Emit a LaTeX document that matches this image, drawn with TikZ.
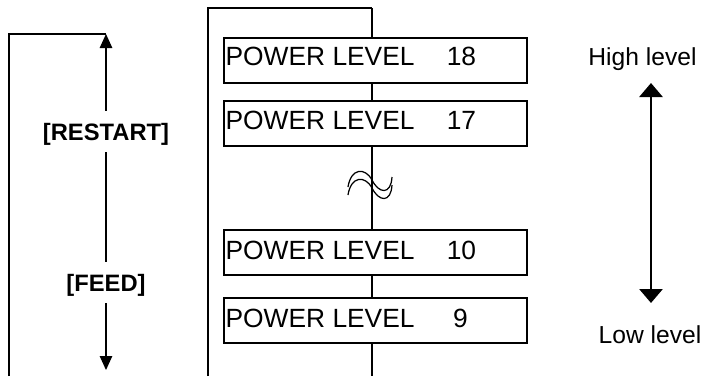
\documentclass[tikz,border=0pt]{standalone}
\usepackage{fontspec}
\setmainfont{Liberation Sans}
\usetikzlibrary{arrows.meta}
\begin{document}
\begin{tikzpicture}[>={Triangle[length=0.28cm,width=0.25cm]},line width=0.7pt,
    lvlbox/.style={draw,fill=white,minimum width=6.06cm,minimum height=0.9cm,inner sep=0pt},
    boxtxt/.style={inner sep=0pt,font=\fontsize{15}{16}\selectfont},
    keytxt/.style={inner sep=0pt,inner ysep=0.23cm,text height=0.34cm,text depth=0pt,font=\fontsize{13.5}{15}\selectfont\bfseries},
    sidetxt/.style={inner sep=0pt,font=\fontsize{14}{15}\selectfont}]
  \useasboundingbox (0,0) rectangle (14.1,-7.52);
  % left loop
  \coordinate (lbot) at (0.18,-7.52);
  \coordinate (rtip) at (2.12,-0.68);
  \coordinate (ftip) at (2.12,-7.40);
  \node[keytxt] (restart) at (2.12,-2.63) {[RESTART]};
  \node[keytxt] (feed) at (2.12,-5.65) {[FEED]};
  \draw (lbot) |- (rtip);
  \draw[->] (restart) -- (rtip);
  \draw (restart) -- (feed);
  \draw[->] (feed) -- (ftip);
  % menu column
  \coordinate (ltop) at (4.16,-0.16);
  \coordinate (lend) at (4.16,-7.52);
  \coordinate (top) at (7.44,-0.16);
  \coordinate (cbot) at (7.44,-7.52);
  \draw (lend) |- (top);
  \node[lvlbox] (b18) at (7.51,-1.21) {};
  \node[lvlbox] (b17) at (7.51,-2.47) {};
  \node[lvlbox] (b10) at (7.51,-5.05) {};
  \node[lvlbox] (b9) at (7.51,-6.41) {};
  \draw (top) -- (top |- b18.north);
  \draw (b18.south -| top) -- (b17.north -| top);
  \draw (b17.south -| top) -- (b10.north -| top);
  \draw (b10.south -| top) -- (b9.north -| top);
  \draw (b9.south -| top) -- (cbot);
  \node[boxtxt,anchor=base west] (p18) at (4.50,-1.30) {POWER LEVEL};
  \node[boxtxt,anchor=base west] (p17) at (4.50,-2.58) {POWER LEVEL};
  \node[boxtxt,anchor=base west] (p10) at (4.50,-5.18) {POWER LEVEL};
  \node[boxtxt,anchor=base west] (p9) at (4.50,-6.54) {POWER LEVEL};
  \node[boxtxt,anchor=base] (n18) at (9.23,-1.30) {18};
  \node[boxtxt,anchor=base] (n17) at (9.23,-2.58) {17};
  \node[boxtxt,anchor=base] (n10) at (9.23,-5.18) {10};
  \node[boxtxt,anchor=base] (n9) at (9.21,-6.54) {9};
  % break mark
  \draw (6.96,-3.74) .. controls (7.02,-3.36) and (7.30,-3.34) .. (7.44,-3.60)
        .. controls (7.58,-3.88) and (7.82,-3.90) .. (7.84,-3.54);
  \draw (6.96,-3.90) .. controls (7.02,-3.52) and (7.30,-3.50) .. (7.44,-3.76)
        .. controls (7.58,-4.04) and (7.82,-4.06) .. (7.84,-3.70);
  % level scale
  \node[sidetxt,anchor=base] (high) at (12.85,-1.30) {High level};
  \node[sidetxt,anchor=base] (low) at (13.00,-6.86) {Low level};
  \coordinate (hi) at (13.02,-1.66);
  \coordinate (lo) at (13.02,-6.06);
  \draw[{Triangle[length=0.28cm,width=0.46cm]}-{Triangle[length=0.28cm,width=0.46cm]},line width=1.7pt] (hi) -- (lo);
\end{tikzpicture}
\end{document}
